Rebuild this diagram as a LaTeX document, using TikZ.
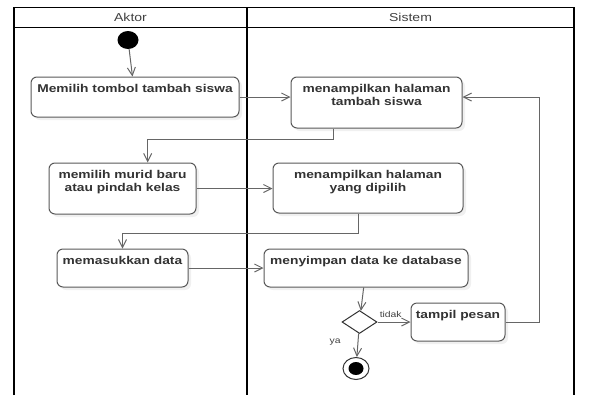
\documentclass[tikz,border=0pt]{standalone}
\usepackage{fontspec}
\setmainfont{Liberation Sans}[FakeStretch=1.22]
\usetikzlibrary{arrows.meta,shapes.geometric,shadows,calc}

\begin{document}
\begin{tikzpicture}[x=1pt,y=-1pt,
  lajur/.style={line width=1.5pt,black},
  judul/.style={font=\fontsize{11.5}{13}\selectfont,text=black!75},
  aksi/.style={draw=black!65,line width=1pt,rounded corners=6pt,fill=white,
    drop shadow={shadow xshift=3pt,shadow yshift=-3pt,opacity=.12},
    font=\fontsize{11.3}{13.5}\selectfont\bfseries,text=black!80,align=center,
    inner xsep=4pt,inner ysep=7pt,text height=8.2pt},
  dua baris/.style={text height=21.7pt},
  alur/.style={draw=black!60,line width=1pt,-{Straight Barb[length=8pt,width=8pt]}},
  ket/.style={font=\fontsize{8.5}{10}\selectfont,text=black!75,inner sep=1pt}]
\useasboundingbox (0,0) rectangle (613,405);

% lajur Aktor / Sistem
\draw[lajur] (14,395) |- (574,7.5) -- (574,395);
\draw[lajur] (14,27.5) -- (574,27.5);
\draw[lajur] (247,7.5) -- (247,395);
\node[judul] (aktor) at (130.5,17.5) {Aktor};
\node[judul] (sistem) at (410.5,17.5) {Sistem};

% aktivitas
\node[ellipse,fill=black,minimum width=21,minimum height=18,inner sep=0] (mulai) at (128,40) {};
\node[aksi,minimum width=208,text depth=17.8pt] (pilih) at (135,97) {Memilih tombol tambah siswa};
\node[aksi,dua baris,minimum width=171,text depth=15.3pt] (tampil) at (376.5,102.5) {menampilkan halaman\\tambah siswa};
\node[aksi,dua baris,minimum width=147,text depth=15.3pt] (murid) at (122.5,188.5) {memilih murid baru\\atau pindah kelas};
\node[aksi,dua baris,minimum width=190,text depth=14.3pt] (dipilih) at (368,188) {menampilkan halaman\\yang dipilih};
\node[aksi,minimum width=131,text depth=15.8pt] (masuk) at (122.5,268) {memasukkan data};
\node[aksi,minimum width=204,text depth=15.8pt] (simpan) at (366,268) {menyimpan data ke database};
\node[diamond,draw=black!80,line width=1pt,fill=white,minimum width=35,minimum height=23,inner sep=0] (putus) at (359.5,322) {};
\node[aksi,minimum width=94,text depth=15.8pt] (pesan) at (458,322) {tampil pesan};
\node[ellipse,draw=black!80,line width=1pt,fill=white,minimum width=26,minimum height=22,inner sep=0,
  path picture={\fill[black] (path picture bounding box.center) ellipse [x radius=7.5pt,y radius=6.5pt];}] (selesai) at (356,368.5) {};

% alur
\draw[alur] (mulai) -- (pilih);
\draw[alur] (pilih) -- (pilih -| tampil.west);
\draw[alur] ($(tampil.south west)!.25!(tampil.south east)$) -- ++(0,11) -| ($(murid.north west)!.67!(murid.north east)$);
\draw[alur] (murid) -- (murid -| dipilih.west);
\draw[alur] ($(dipilih.south west)!.45!(dipilih.south east)$) -- ++(0,20) -| (masuk);
\draw[alur] (masuk) -- (masuk -| simpan.west);
\draw[alur] (simpan) -- (putus);
\draw[alur] (putus) -- node[ket,pos=.4,above=3pt] {tidak} (pesan);
\draw[alur] (putus) -- node[ket,pos=.35,left=16pt] {ya} (selesai);
\draw[alur] (pesan.east) -- ++(34,0) |- ($(tampil.east)+(0,-5.5)$);
\end{tikzpicture}
\end{document}
